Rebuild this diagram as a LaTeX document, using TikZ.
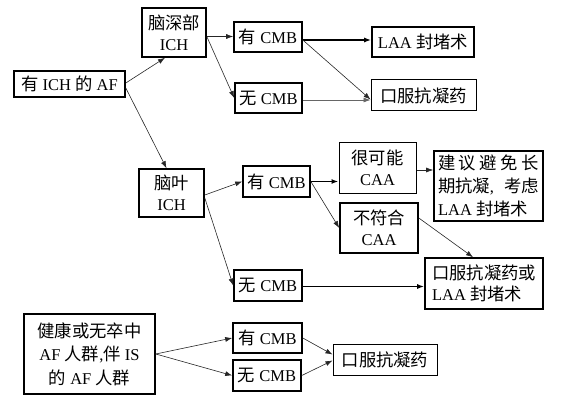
\documentclass[tikz,border=0pt]{standalone}
\usepackage{fontspec}
\setmainfont{Liberation Serif}
\newfontfamily\cjk[Scale=1.05]{Noto Sans CJK SC}
\newcommand{\zh}[1]{{\cjk #1}}
\usetikzlibrary{arrows.meta}
\tikzstyle{box} = [draw, line width=1.6pt, align=center, inner sep=0pt,
font=\fontsize{16.5}{21}\selectfont]
\tikzstyle{line} = [draw, black!85, line width=0.6pt, -{Latex[length=7pt,width=5pt]}]

\begin{document}
\begin{tikzpicture}[x=1pt, y=-1pt,
	thinbox/.style={box, line width=1pt},
	thickline/.style={line, black, line width=1.8pt}]
    \useasboundingbox (0,0) rectangle (578,401);
    \node [box, minimum width=111pt, minimum height=26pt] (af) at (69.5,84) {\zh{有} ICH \zh{的} AF};
    \node [box, minimum width=64pt, minimum height=49pt] (deep) at (174,32.5) {\zh{脑深部}\\ICH};
    \node [box, minimum width=68pt, minimum height=30pt] (deepY) at (268,37) {\zh{有} CMB};
    \node [box, minimum width=67pt, minimum height=30pt] (deepN) at (268.5,98) {\zh{无} CMB};
    \node [box, minimum width=102pt, minimum height=30pt] (laa) at (423,42) {LAA \zh{封堵术}};
    \node [thinbox, minimum width=105pt, minimum height=31pt] (oac) at (423.5,95.5) {\zh{口服抗凝药}};
    \node [box, minimum width=65pt, minimum height=48pt] (lobar) at (171.5,193) {\zh{脑叶}\\ICH};
    \node [box, minimum width=67pt, minimum height=31pt] (lobarY) at (276.5,181.5) {\zh{有} CMB};
    \node [thinbox, minimum width=77pt, minimum height=50pt] (caa) at (377.5,168) {\zh{很可能}\\CAA};
    \node [box, minimum width=78pt, minimum height=50pt] (ncaa) at (379,228) {\zh{不符合}\\CAA};
    \node [box, minimum width=109pt, minimum height=70pt, align=left,
      font=\fontsize{16.5}{23}\selectfont] (avoid) at (488.5,186)
      {\hbox to 101pt{\zh{建\hfil 议\hfil 避\hfil 免\hfil 长}}\\
       \hbox to 101pt{\zh{期抗凝},\hfil\zh{考虑}}\\
       LAA \zh{封堵术}};
    \node [box, minimum width=68pt, minimum height=31pt] (lobarN) at (268,285.5) {\zh{无} CMB};
    \node [box, minimum width=118pt, minimum height=51pt, align=left] (oacLaa) at (484,283.5)
      {\zh{口服抗凝药或}\\LAA \zh{封堵术}};
    \node [box, minimum width=131pt, minimum height=80pt,
      font=\fontsize{16.5}{23.5}\selectfont] (healthy) at (89.5,354)
      {\zh{健康或无卒中}\\AF \zh{人群},\zh{伴} IS\\\zh{的} AF \zh{人群}};
    \node [box, minimum width=69pt, minimum height=30pt] (isY) at (267.5,338) {\zh{有} CMB};
    \node [box, minimum width=68pt, minimum height=31pt] (isN) at (267,375.5) {\zh{无} CMB};
    \node [thinbox, minimum width=104pt, minimum height=31pt] (isOac) at (385,359.5) {\zh{口服抗凝药}};
	%% Arrows
    \path [line] ([yshift=1pt]af.east) -- ([xshift=-9pt]deep.south);
    \path [line] ([yshift=-4pt]af.east) -- ([xshift=-5pt]lobar.north);
    \path [line] ([yshift=-4pt]deep.east) -- ([yshift=-4pt]deep.east -| deepY.west);
    \path [line] ([yshift=-4pt]deep.east) -- (deepN.west);
    \path [thickline] ([yshift=-3pt]deepY.east) -- ([yshift=-3pt]deepY.east -| laa.west);
    \path [line] ([yshift=-3pt]deepY.east) -- ([yshift=-4pt]oac.west);
    \path [line, black!60] ([yshift=-2pt]deepN.east) -- ([yshift=-2pt]deepN.east -| oac.west);
    \path [line] ([yshift=-2pt]lobar.east) -- (lobarY.west);
    \path [line] ([yshift=-5pt]lobar.east) -- (lobarN.west);
    \path [thickline] (lobarY.east) -- (lobarY.east -| caa.west);
    \path [line] (lobarY.east) -- (ncaa.west);
    \path [line] ([yshift=-2pt]caa.east) -- ([yshift=-2pt]caa.east -| avoid.west);
    \path [line] ([yshift=10pt]ncaa.east) -- ([xshift=-11pt]oacLaa.north);
    \path [thickline] ([yshift=-1pt]lobarN.east) -- ([yshift=-1pt]lobarN.east -| oacLaa.west);
    %% Last group
    \path [line] (healthy.east) -- (isY.west);
    \path [line] (healthy.east) -- (isN.west);
    \path [line] (isY.east) -- ([yshift=5pt]isOac.west);
    \path [line] (isN.east) -- ([yshift=-1pt]isOac.west);
\end{tikzpicture}
\end{document}
